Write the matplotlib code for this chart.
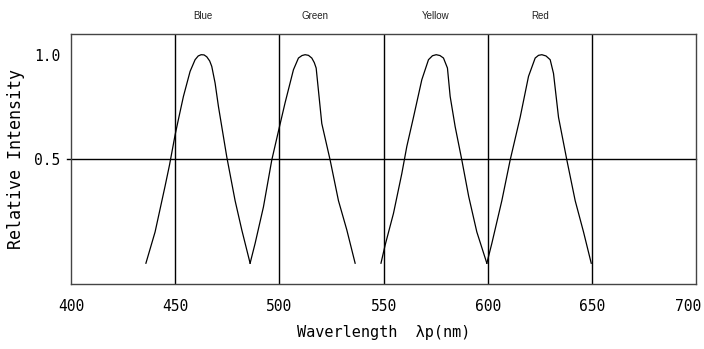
import matplotlib
matplotlib.use('Agg')
from matplotlib import pyplot as plt
from matplotlib.transforms import ScaledTranslation

# Spectra (wavelength nm, relative intensity)
blue_wl = [435.9, 440.3, 445.1, 447.2, 449.9, 451.5, 453.9, 457.1, 459.5, 461.0, 462.4,
           463.8, 465.1, 466.5, 467.5, 469.1, 470.7, 474.7, 478.7, 481.9, 485.9]
blue_int = [0.0, 0.15, 0.37, 0.47, 0.615, 0.69, 0.80, 0.92, 0.976, 0.994, 1.0,
            0.999, 0.99, 0.97, 0.944, 0.864, 0.752, 0.51, 0.30, 0.16, 0.0]

green_wl = [485.9, 488.3, 492.3, 496.3, 500.0, 502.7, 506.7, 509.1, 510.8, 512.3,
            513.9, 515.5, 516.7, 517.6, 520.3, 524.3, 528.3, 532.3, 536.3]
green_int = [0.0, 0.095, 0.27, 0.495, 0.655, 0.77, 0.928, 0.984, 0.996, 1.0,
             0.997, 0.984, 0.962, 0.936, 0.67, 0.495, 0.30, 0.16, 0.0]

yellow_wl = [548.7, 550.7, 554.7, 558.7, 561.1, 564.3, 568.3, 571.5, 573.4, 575.2,
             577.0, 578.7, 580.6, 581.9, 584.3, 587.5, 590.8, 594.7, 599.5]
yellow_int = [0.0, 0.087, 0.239, 0.43, 0.56, 0.70, 0.88, 0.976, 0.995, 1.0,
              0.996, 0.984, 0.936, 0.80, 0.655, 0.495, 0.32, 0.15, 0.0]

red_wl = [599.5, 601.9, 606.7, 610.7, 615.5, 619.5, 622.7, 624.3, 625.9, 627.9, 629.9,
          631.5, 633.9, 637.9, 641.9, 645.9, 649.6]
red_int = [0.0, 0.095, 0.30, 0.495, 0.70, 0.896, 0.984, 0.997, 1.0, 0.994, 0.976,
           0.91, 0.70, 0.495, 0.30, 0.15, 0.0]

color_names = ['Blue', 'Green', 'Yellow', 'Red']
name_pos = [463, 517, 575, 625]

grid_x = [450, 500, 550, 600, 650]
x_ticks = [400, 450, 500, 550, 600, 650, 700]
y_ticks = [0.5, 1.0]

mono = 'DejaVu Sans Mono'

fig = plt.figure(figsize=(7.04, 3.49), dpi=100)
ax = fig.add_axes([0.101, 0.186, 0.888, 0.717])

for wl, it in [(blue_wl, blue_int), (green_wl, green_int),
               (yellow_wl, yellow_int), (red_wl, red_int)]:
    ax.plot(wl, it, color='black', lw=0.9)

for gx in grid_x:
    ax.axvline(gx, color='black', lw=1)
ax.axhline(0.5, xmin=-0.006, xmax=1.0, color='black', lw=1, clip_on=False)

ax.set_xlim(400, 700)
ax.set_ylim(-0.1, 1.1)
ax.set_xticks(x_ticks)
ax.set_xticklabels([str(v) for v in x_ticks], family=mono, fontsize=10.5)
ax.set_yticks(y_ticks)
ax.set_yticklabels(['0.5', '1.0'], family=mono, fontsize=10.5)
ax.tick_params(axis='x', length=0, pad=11)
ax.tick_params(axis='y', length=0, pad=8)

# keep the last x label inside the figure
last = ax.get_xticklabels()[-1]
last.set_transform(last.get_transform() + ScaledTranslation(-6 / 72, 0, fig.dpi_scale_trans))

for sp in ax.spines.values():
    sp.set_color('#444444')
    sp.set_linewidth(1)

ax.set_xlabel('Waverlength  λp(nm)', family=mono, fontsize=11, labelpad=8)
ax.set_ylabel('Relative Intensity', family=mono, fontsize=12, labelpad=6)

for name, xp in zip(color_names, name_pos):
    ax.text(xp, 1.16, name, ha='center', va='bottom', fontsize=7,
            family='Liberation Sans', color='#222222')

fig.savefig('out.png', dpi=100)
